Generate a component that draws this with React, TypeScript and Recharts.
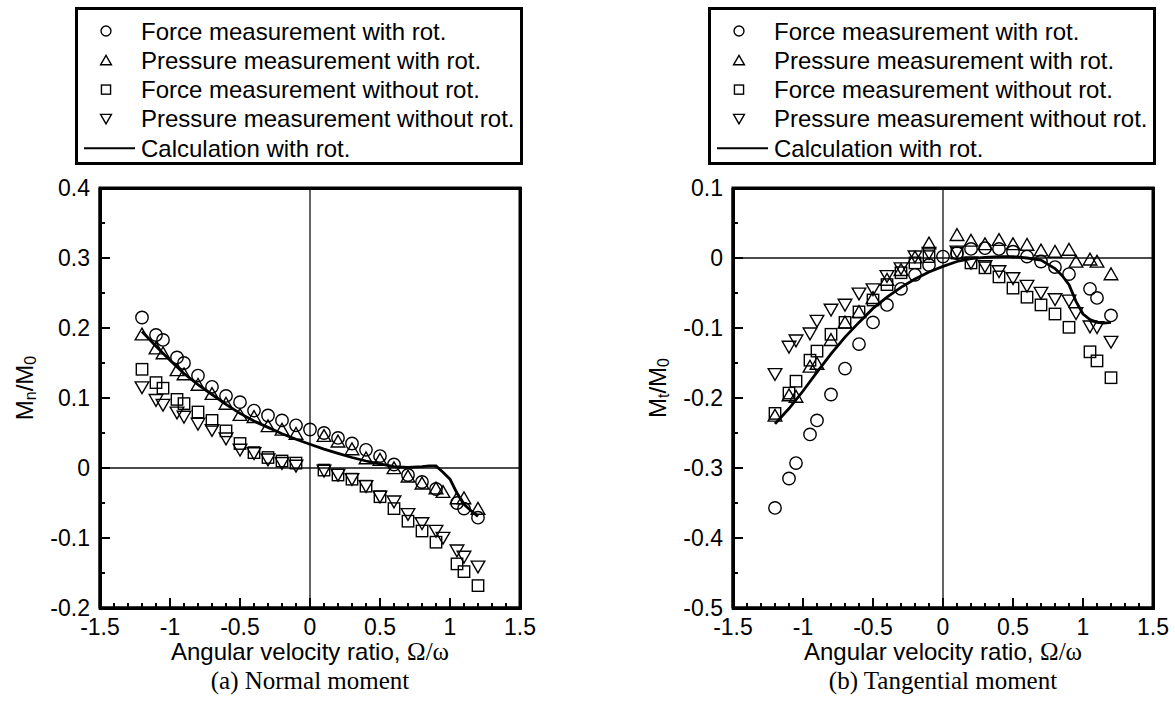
import React from 'react';
import {
  ComposedChart,
  Scatter,
  Line,
  XAxis,
  YAxis,
  ReferenceLine,
  ReferenceArea,
  Legend,
} from 'recharts';

const SANS = "'Liberation Sans', Arial, Helvetica, sans-serif";
const SERIF = "'Liberation Serif', 'Times New Roman', serif";

// ---- series names (legend order) ----
const SERIES_NAMES = [
  'Force measurement with rot.',
  'Pressure measurement with rot.',
  'Force measurement without rot.',
  'Pressure measurement without rot.',
  'Calculation with rot.',
];

// ---- x positions of the measurements ----
const X_FORCE_ROT = [-1.2, -1.1, -1.05, -0.95, -0.9, -0.8, -0.7, -0.6, -0.5, -0.4, -0.3, -0.2, -0.1, 0, 0.1, 0.2, 0.3, 0.4, 0.5, 0.6, 0.7, 0.8, 0.9, 1.05, 1.1, 1.2];
const X_FORCE_NOROT = [-1.2, -1.1, -1.05, -0.95, -0.9, -0.8, -0.7, -0.6, -0.5, -0.4, -0.3, -0.2, -0.1, 0.1, 0.2, 0.3, 0.4, 0.5, 0.6, 0.7, 0.8, 0.9, 1.05, 1.1, 1.2];
const X_PRESSURE = [-1.2, -1.1, -1.05, -0.95, -0.9, -0.8, -0.7, -0.6, -0.5, -0.4, -0.3, -0.2, -0.1, 0.1, 0.2, 0.3, 0.4, 0.5, 0.6, 0.7, 0.8, 0.9, 0.95, 1.05, 1.1, 1.2];
const X_CALC = [-1.2, -1.1, -1.0, -0.9, -0.8, -0.7, -0.6, -0.5, -0.4, -0.3, -0.2, -0.1, 0, 0.1, 0.2, 0.3, 0.4, 0.5, 0.6, 0.7, 0.8, 0.85, 0.9, 0.95, 1.0, 1.05, 1.1, 1.15, 1.2];

// ---- (a) normal moment Mn/M0 ----
const MN_FORCE_ROT = [0.215, 0.19, 0.183, 0.158, 0.15, 0.132, 0.116, 0.103, 0.094, 0.082, 0.075, 0.068, 0.061, 0.055, 0.05, 0.043, 0.035, 0.026, 0.017, 0.005, -0.01, -0.02, -0.03, -0.05, -0.058, -0.071];
const MN_PRESS_ROT = [0.191, 0.171, 0.164, 0.14, 0.134, 0.119, 0.106, 0.092, 0.076, 0.073, 0.06, 0.055, 0.049, 0.046, 0.038, 0.027, 0.014, 0.012, 0.0, -0.012, -0.022, -0.029, -0.034, -0.043, -0.043, -0.058];
const MN_FORCE_NOROT = [0.141, 0.122, 0.114, 0.098, 0.092, 0.08, 0.068, 0.053, 0.035, 0.022, 0.015, 0.01, 0.007, -0.003, -0.01, -0.016, -0.026, -0.041, -0.058, -0.076, -0.09, -0.106, -0.137, -0.148, -0.168];
const MN_PRESS_NOROT = [0.115, 0.097, 0.09, 0.079, 0.073, 0.063, 0.054, 0.042, 0.026, 0.021, 0.012, 0.007, 0.003, -0.004, -0.01, -0.016, -0.026, -0.041, -0.048, -0.066, -0.079, -0.09, -0.1, -0.118, -0.127, -0.141];
const MN_CALC = [0.195, 0.174, 0.154, 0.135, 0.119, 0.105, 0.091, 0.078, 0.067, 0.058, 0.049, 0.041, 0.034, 0.027, 0.021, 0.015, 0.01, 0.006, 0.002, 0.001, 0.002, 0.003, 0.003, -0.006, -0.016, -0.036, -0.052, -0.061, -0.069];

// ---- (b) tangential moment Mt/M0 ----
const MT_FORCE_ROT = [-0.357, -0.315, -0.293, -0.252, -0.232, -0.195, -0.158, -0.123, -0.092, -0.067, -0.044, -0.024, -0.01, 0.002, 0.007, 0.013, 0.014, 0.013, 0.009, 0.002, -0.005, -0.013, -0.023, -0.044, -0.057, -0.082];
const MT_PRESS_ROT = [-0.225, -0.196, -0.198, -0.155, -0.151, -0.117, -0.092, -0.077, -0.057, -0.031, -0.017, 0.001, 0.021, 0.033, 0.025, 0.02, 0.026, 0.02, 0.019, 0.011, 0.009, 0.012, -0.005, -0.002, -0.005, -0.023];
const MT_FORCE_NOROT = [-0.222, -0.193, -0.176, -0.146, -0.133, -0.109, -0.092, -0.077, -0.06, -0.038, -0.021, -0.007, 0.002, 0.007, -0.007, -0.014, -0.027, -0.043, -0.056, -0.067, -0.08, -0.099, -0.134, -0.147, -0.171];
const MT_PRESS_NOROT = [-0.166, -0.127, -0.118, -0.108, -0.09, -0.074, -0.067, -0.051, -0.045, -0.026, -0.015, 0.002, 0.007, 0.009, -0.007, -0.012, -0.019, -0.029, -0.04, -0.05, -0.059, -0.061, -0.079, -0.098, -0.099, -0.12];
const MT_CALC = [-0.237, -0.215, -0.19, -0.163, -0.137, -0.113, -0.092, -0.072, -0.056, -0.042, -0.03, -0.02, -0.012, -0.005, -0.001, 0.001, 0.002, 0.002, 0.0, -0.003, -0.015, -0.025, -0.038, -0.062, -0.08, -0.088, -0.092, -0.093, -0.092];

// ---- axis ticks ----
const X_MAJOR = [-1.5, -1, -0.5, 0, 0.5, 1, 1.5];
const X_MINOR_STEP = 0.1;
const MN_MAJOR = [-0.2, -0.1, 0, 0.1, 0.2, 0.3, 0.4];
const MT_MAJOR = [-0.5, -0.4, -0.3, -0.2, -0.1, 0, 0.1];
const Y_MINOR_STEP = 0.05;

const W = 540;
const H = 718;
const MARGIN = { top: 188, right: 20, bottom: 70, left: 40 };
const Y_AXIS_W = 60;
const X_AXIS_H = 40;
const X_TICK_MARGIN = 11;
const Y_TICK_MARGIN = 10;
const FRAME_W = 3;
// plot box derived from the layout constants above
const PLOT_LEFT = MARGIN.left + Y_AXIS_W;
const PLOT_TOP = MARGIN.top;
const PLOT_W = W - PLOT_LEFT - MARGIN.right;
const PLOT_H = H - MARGIN.top - MARGIN.bottom - X_AXIS_H;

function buildTicks(majors: number[], step: number) {
  const lo = majors[0];
  const hi = majors[majors.length - 1];
  const n = Math.round((hi - lo) / step);
  const out: number[] = [];
  for (let i = 0; i <= n; i++) out.push(Math.round((lo + i * step) * 1000) / 1000);
  return out;
}

const isMajor = (v: number, majors: number[]) => majors.some((m) => Math.abs(m - v) < 1e-6);

const zip = (xs: number[], ys: number[]) => xs.map((x, i) => ({ x, y: ys[i] }));

type Kind = 'circle' | 'up' | 'square' | 'down';
const KINDS: Kind[] = ['circle', 'up', 'square', 'down'];

function Marker({ kind, cx, cy, s = 1 }: { kind: Kind; cx: number; cy: number; s?: number }) {
  const st = { fill: 'none', stroke: '#000', strokeWidth: 1.4 };
  if (kind === 'circle') return <circle cx={cx} cy={cy} r={6.2 * s} {...st} />;
  if (kind === 'square')
    return <rect x={cx - 5.7 * s} y={cy - 5.7 * s} width={11.4 * s} height={11.4 * s} {...st} />;
  if (kind === 'up')
    return (
      <polygon
        points={`${cx},${cy - 6.2 * s} ${cx - 6.8 * s},${cy + 5.6 * s} ${cx + 6.8 * s},${cy + 5.6 * s}`}
        {...st}
      />
    );
  return (
    <polygon
      points={`${cx},${cy + 6.2 * s} ${cx - 6.8 * s},${cy - 5.6 * s} ${cx + 6.8 * s},${cy - 5.6 * s}`}
      {...st}
    />
  );
}

function XTick(props: any) {
  const { x, y, payload } = props;
  const v = payload.value;
  const major = isMajor(v, X_MAJOR);
  const ay = y - X_TICK_MARGIN;
  return (
    <g>
      <line x1={x} x2={x} y1={ay} y2={ay - (major ? 10 : 5)} stroke="#000" strokeWidth={2} />
      {major && (
        <text x={x} y={y} dy="0.71em" textAnchor="middle" fontFamily={SANS} fontSize={23} fill="#000">
          {String(v)}
        </text>
      )}
    </g>
  );
}

function YTick(props: any) {
  const { x, y, payload, majors } = props;
  const v = payload.value;
  const major = isMajor(v, majors);
  const ax = x + Y_TICK_MARGIN;
  return (
    <g>
      <line x1={ax} x2={ax + (major ? 10 : 5)} y1={y} y2={y} stroke="#000" strokeWidth={2} />
      {major && (
        <text x={x} y={y} dy="0.355em" textAnchor="end" fontFamily={SANS} fontSize={23} fill="#000">
          {String(v)}
        </text>
      )}
    </g>
  );
}

function XTitle(props: any) {
  const { viewBox, caption } = props;
  const cx = viewBox.x + viewBox.width / 2;
  return (
    <g>
      <text x={cx} y={viewBox.y + 52} textAnchor="middle" fontFamily={SANS} fontSize={24} fill="#000">
        Angular velocity ratio, <tspan fontFamily={SERIF} fontSize={25}>Ω/ω</tspan>
      </text>
      <text x={cx} y={viewBox.y + 81} textAnchor="middle" fontFamily={SERIF} fontSize={25} fill="#000">
        {caption}
      </text>
    </g>
  );
}

function YTitle(props: any) {
  const { viewBox, sub } = props;
  const x = viewBox.x - 16;
  const y = viewBox.y + viewBox.height / 2 - 10;
  return (
    <text
      x={x}
      y={y}
      transform={`rotate(-90 ${x} ${y})`}
      textAnchor="middle"
      dominantBaseline="central"
      fontFamily={SANS}
      fontSize={24}
      fill="#000"
    >
      M<tspan dy={6} fontSize={16}>{sub}</tspan>
      <tspan dy={-6}>/M</tspan>
      <tspan dy={6} fontSize={16}>0</tspan>
    </text>
  );
}

function LegendBox() {
  const rowY = (i: number) => 24 + i * 29.3;
  return (
    <svg width={448} height={158} style={{ display: 'block' }}>
      <rect x={1.5} y={1.5} width={445} height={155} fill="#fff" stroke="#000" strokeWidth={3} />
      {KINDS.map((k, i) => (
        <Marker key={k} kind={k} cx={31} cy={rowY(i)} s={0.8} />
      ))}
      <line x1={9} x2={60} y1={rowY(4)} y2={rowY(4)} stroke="#000" strokeWidth={2} />
      {SERIES_NAMES.map((n, i) => (
        <text key={n} x={66} y={rowY(i)} dy="0.355em" fontFamily={SANS} fontSize={24} fill="#000">
          {n}
        </text>
      ))}
    </svg>
  );
}

interface PanelProps {
  left: number;
  yMajor: number[];
  sub: string;
  caption: string;
  forceRot: number[];
  pressRot: number[];
  forceNoRot: number[];
  pressNoRot: number[];
  calc: number[];
}

function Panel({ left, yMajor, sub, caption, forceRot, pressRot, forceNoRot, pressNoRot, calc }: PanelProps) {
  const xTicks = buildTicks(X_MAJOR, X_MINOR_STEP);
  const yTicks = buildTicks(yMajor, Y_MINOR_STEP);
  const xDom: [number, number] = [X_MAJOR[0], X_MAJOR[X_MAJOR.length - 1]];
  const yDom: [number, number] = [yMajor[0], yMajor[yMajor.length - 1]];
  const scatters: { kind: Kind; data: { x: number; y: number }[] }[] = [
    { kind: 'circle', data: zip(X_FORCE_ROT, forceRot) },
    { kind: 'up', data: zip(X_PRESSURE, pressRot) },
    { kind: 'square', data: zip(X_FORCE_NOROT, forceNoRot) },
    { kind: 'down', data: zip(X_PRESSURE, pressNoRot) },
  ];
  return (
    <div style={{ position: 'absolute', left, top: 0, width: W, height: H }}>
      <ComposedChart width={W} height={H} margin={MARGIN}>
        <XAxis
          type="number"
          dataKey="x"
          domain={xDom}
          ticks={xTicks}
          interval={0}
          tickSize={0}
          tickMargin={X_TICK_MARGIN}
          tickLine={false}
          tick={<XTick />}
          stroke="#000"
          axisLine={{ stroke: '#000', strokeWidth: FRAME_W }}
          height={X_AXIS_H}
          allowDataOverflow
          label={<XTitle caption={caption} />}
        />
        <YAxis
          type="number"
          dataKey="y"
          domain={yDom}
          ticks={yTicks}
          interval={0}
          tickSize={0}
          tickMargin={Y_TICK_MARGIN}
          tickLine={false}
          tick={<YTick majors={yMajor} />}
          stroke="#000"
          axisLine={{ stroke: '#000', strokeWidth: FRAME_W }}
          width={Y_AXIS_W}
          allowDataOverflow
          label={<YTitle sub={sub} />}
        />
        <ReferenceArea
          x1={xDom[0]}
          x2={xDom[1]}
          y1={yDom[0]}
          y2={yDom[1]}
          fill="#fff"
          fillOpacity={0}
          stroke="#000"
          strokeWidth={FRAME_W}
          strokeOpacity={1}
          ifOverflow="visible"
        />
        <ReferenceLine y={0} stroke="#111" strokeWidth={1.3} />
        <ReferenceLine x={0} stroke="#111" strokeWidth={1.3} />
        {scatters.map((s, i) => (
          <Scatter
            key={s.kind}
            name={SERIES_NAMES[i]}
            data={s.data}
            dataKey="y"
            isAnimationActive={false}
            shape={(p: any) => <Marker kind={s.kind} cx={p.cx} cy={p.cy} />}
          />
        ))}
        <Line
          name={SERIES_NAMES[4]}
          data={zip(X_CALC, calc)}
          dataKey="y"
          type="linear"
          stroke="#000"
          strokeWidth={2.8}
          dot={false}
          activeDot={false}
          isAnimationActive={false}
        />
        <Legend
          layout="vertical"
          align="center"
          verticalAlign="middle"
          content={() => <LegendBox />}
          wrapperStyle={{ left: 75, top: 7, width: 448, height: 158 }}
        />
      </ComposedChart>
      {/* plot frame */}
      <div
        style={{
          position: 'absolute',
          left: PLOT_LEFT - FRAME_W / 2,
          top: PLOT_TOP - FRAME_W / 2,
          width: PLOT_W + FRAME_W,
          height: PLOT_H + FRAME_W,
          borderStyle: 'solid',
          borderColor: '#000',
          borderWidth: FRAME_W,
          boxSizing: 'border-box',
          pointerEvents: 'none',
          zIndex: 5,
        }}
      />
    </div>
  );
}

export default function App() {
  return (
    <div style={{ position: 'absolute', left: 0, top: 0, width: 1175, height: 718, background: '#fff' }}>
      <Panel
        left={0}
        yMajor={MN_MAJOR}
        sub="n"
        caption="(a) Normal moment"
        forceRot={MN_FORCE_ROT}
        pressRot={MN_PRESS_ROT}
        forceNoRot={MN_FORCE_NOROT}
        pressNoRot={MN_PRESS_NOROT}
        calc={MN_CALC}
      />
      <Panel
        left={633}
        yMajor={MT_MAJOR}
        sub="t"
        caption="(b) Tangential moment"
        forceRot={MT_FORCE_ROT}
        pressRot={MT_PRESS_ROT}
        forceNoRot={MT_FORCE_NOROT}
        pressNoRot={MT_PRESS_NOROT}
        calc={MT_CALC}
      />
    </div>
  );
}
